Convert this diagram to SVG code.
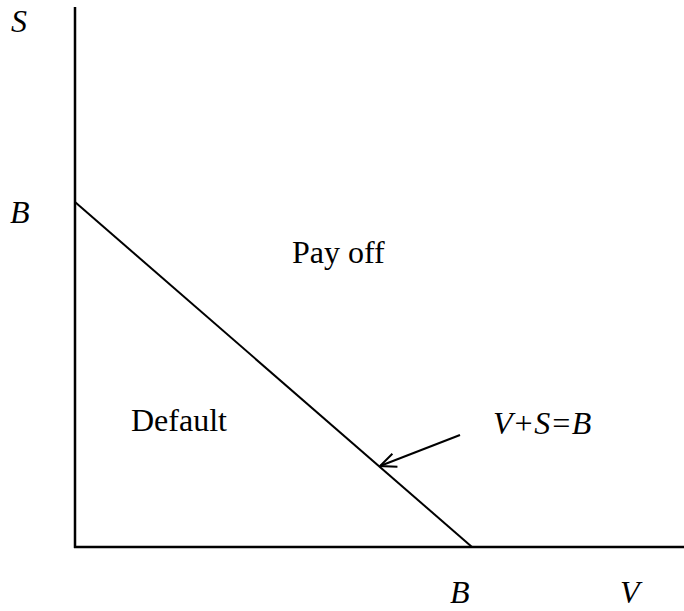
<svg xmlns="http://www.w3.org/2000/svg" width="684" height="611" viewBox="0 0 684 611">
<defs>
<style>
.t{font-family:"Liberation Serif","Times New Roman",serif;font-size:32px;fill:#000}
.i{font-style:italic}
.ln{stroke:#000;fill:none}
</style>
<marker id="ah" markerWidth="20" markerHeight="20" refX="19" refY="10" orient="auto" markerUnits="userSpaceOnUse">
<path d="M3,3 L19,10 L3,17" fill="none" stroke="#000" stroke-width="2"/>
</marker>
</defs>
<rect width="684" height="611" fill="#fff"/>
<g id="connectors">
<line class="ln" x1="75" y1="7" x2="75" y2="548" stroke-width="2.5"/>
<line class="ln" x1="74" y1="547" x2="684" y2="547" stroke-width="2.5"/>
<line class="ln" x1="75" y1="202" x2="472" y2="547" stroke-width="2"/>
<line class="ln" x1="460" y1="435" x2="380" y2="466" stroke-width="2" marker-end="url(#ah)"/>
</g>
<g id="label-S"><text class="t i" x="11" y="32">S</text></g>
<g id="label-B-axis"><text class="t i" x="10" y="223">B</text></g>
<g id="label-payoff"><text class="t" x="292" y="263">Pay off</text></g>
<g id="label-default"><text class="t" x="131" y="431">Default</text></g>
<g id="label-eq"><text class="t i" x="493" y="434">V+S=B</text></g>
<g id="label-B-bottom"><text class="t i" x="450" y="603">B</text></g>
<g id="label-V"><text class="t i" x="620" y="603">V</text></g>
</svg>
